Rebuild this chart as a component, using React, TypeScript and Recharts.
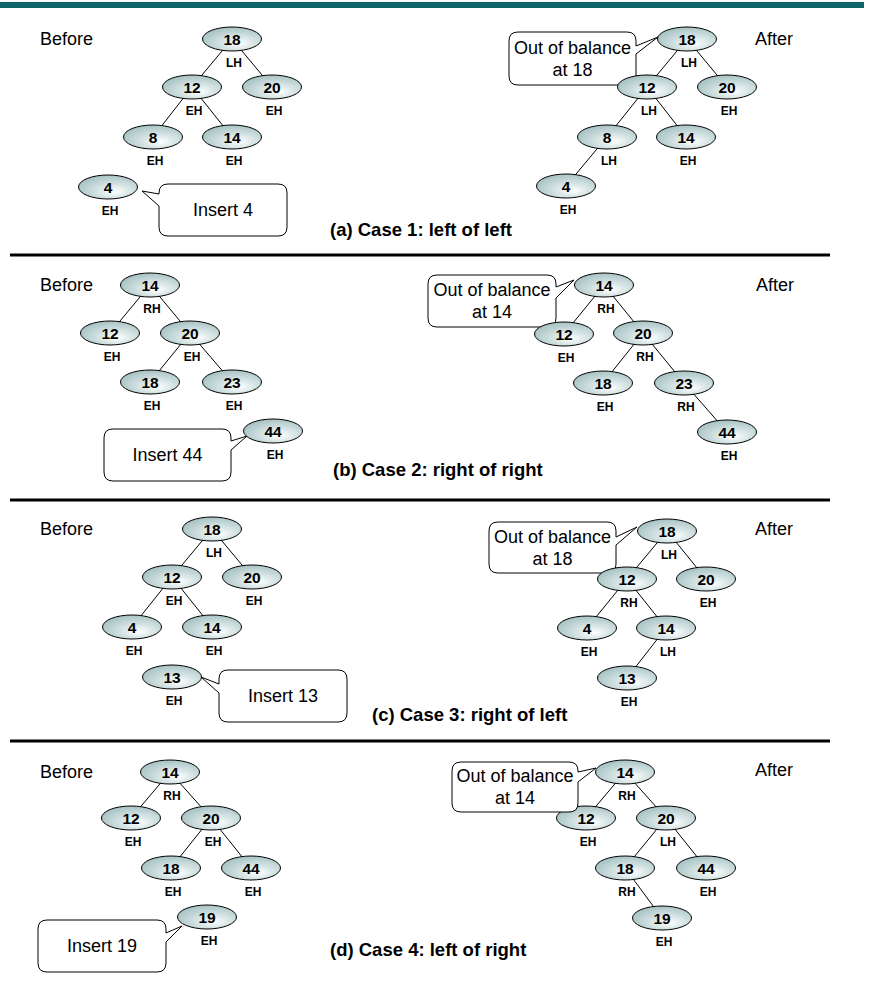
import React from 'react';
import { ScatterChart, Scatter, XAxis, YAxis } from 'recharts';

const W = 869;
const H = 983;
const FONT = '"Liberation Sans", Arial, Helvetica, sans-serif';

// ---- Trees (key, position in diagram units, balance factor) ----
const treeABefore = [
  { k: 18, x: 232, y: 39, b: 'LH' }, { k: 12, x: 192, y: 87, b: 'EH' }, { k: 20, x: 272, y: 87, b: 'EH' },
  { k: 8, x: 153, y: 137, b: 'EH' }, { k: 14, x: 232, y: 137, b: 'EH' }, { k: 4, x: 108, y: 187, b: 'EH' },
];
const edgesABefore = [[18, 12], [18, 20], [12, 8], [12, 14]];

const treeAAfter = [
  { k: 18, x: 687, y: 39, b: 'LH' }, { k: 12, x: 647, y: 87, b: 'LH' }, { k: 20, x: 727, y: 87, b: 'EH' },
  { k: 8, x: 607, y: 137, b: 'LH' }, { k: 14, x: 686, y: 137, b: 'EH' }, { k: 4, x: 566, y: 186, b: 'EH' },
];
const edgesAAfter = [[18, 12], [18, 20], [12, 8], [12, 14], [8, 4]];

const treeBBefore = [
  { k: 14, x: 150, y: 285, b: 'RH' }, { k: 12, x: 110, y: 333, b: 'EH' }, { k: 20, x: 190, y: 333, b: 'EH' },
  { k: 18, x: 150, y: 382, b: 'EH' }, { k: 23, x: 232, y: 382, b: 'EH' }, { k: 44, x: 273, y: 431, b: 'EH' },
];
const edgesBBefore = [[14, 12], [14, 20], [20, 18], [20, 23]];

const treeBAfter = [
  { k: 14, x: 604, y: 285, b: 'RH' }, { k: 12, x: 564, y: 334, b: 'EH' }, { k: 20, x: 643, y: 333, b: 'RH' },
  { k: 18, x: 603, y: 383, b: 'EH' }, { k: 23, x: 684, y: 383, b: 'RH' }, { k: 44, x: 727, y: 432, b: 'EH' },
];
const edgesBAfter = [[14, 12], [14, 20], [20, 18], [20, 23], [23, 44]];

const treeCBefore = [
  { k: 18, x: 212, y: 529, b: 'LH' }, { k: 12, x: 172, y: 577, b: 'EH' }, { k: 20, x: 252, y: 577, b: 'EH' },
  { k: 4, x: 132, y: 627, b: 'EH' }, { k: 14, x: 212, y: 627, b: 'EH' }, { k: 13, x: 172, y: 677, b: 'EH' },
];
const edgesCBefore = [[18, 12], [18, 20], [12, 4], [12, 14]];

const treeCAfter = [
  { k: 18, x: 667, y: 531, b: 'LH' }, { k: 12, x: 627, y: 579, b: 'RH' }, { k: 20, x: 706, y: 579, b: 'EH' },
  { k: 4, x: 587, y: 628, b: 'EH' }, { k: 14, x: 666, y: 628, b: 'LH' }, { k: 13, x: 627, y: 678, b: 'EH' },
];
const edgesCAfter = [[18, 12], [18, 20], [12, 4], [12, 14], [14, 13]];

const treeDBefore = [
  { k: 14, x: 170, y: 772, b: 'RH' }, { k: 12, x: 131, y: 818, b: 'EH' }, { k: 20, x: 211, y: 818, b: 'EH' },
  { k: 18, x: 171, y: 868, b: 'EH' }, { k: 44, x: 251, y: 868, b: 'EH' }, { k: 19, x: 207, y: 917, b: 'EH' },
];
const edgesDBefore = [[14, 12], [14, 20], [20, 18], [20, 44]];

const treeDAfter = [
  { k: 14, x: 625, y: 772, b: 'RH' }, { k: 12, x: 586, y: 818, b: 'EH' }, { k: 20, x: 666, y: 818, b: 'LH' },
  { k: 18, x: 625, y: 868, b: 'RH' }, { k: 44, x: 706, y: 868, b: 'EH' }, { k: 19, x: 662, y: 918, b: 'EH' },
];
const edgesDAfter = [[14, 12], [14, 20], [20, 18], [20, 44], [18, 19]];

// ---- Text ----
const sideLabels = [
  { x: 40, y: 39, t: 'Before' }, { x: 755, y: 39, t: 'After' },
  { x: 40, y: 285, t: 'Before' }, { x: 756, y: 285, t: 'After' },
  { x: 40, y: 529, t: 'Before' }, { x: 755, y: 529, t: 'After' },
  { x: 40, y: 772, t: 'Before' }, { x: 755, y: 770, t: 'After' },
];
const captions = [
  { x: 330, y: 230, t: '(a) Case 1: left of left' },
  { x: 333, y: 470, t: '(b) Case 2: right of right' },
  { x: 372, y: 715, t: '(c) Case 3: right of left' },
  { x: 330, y: 950, t: '(d) Case 4: left of right' },
];

// ---- Callouts (box corners, pointer side, pointer base, tip) ----
const calloutsUnder = [
  { x1: 159, y1: 184, x2: 287, y2: 236, side: 'left', pa: 194, pb: 206, tx: 142, ty: 191, lines: ['Insert 4'] },
  { x1: 509, y1: 32, x2: 636, y2: 85, side: 'right', pa: 46, pb: 54, tx: 658, ty: 37, lines: ['Out of balance', 'at 18'] },
  { x1: 104, y1: 429, x2: 231, y2: 481, side: 'right', pa: 441, pb: 450, tx: 247, ty: 436, lines: ['Insert 44'] },
  { x1: 428, y1: 275, x2: 556, y2: 327, side: 'right', pa: 287, pb: 298, tx: 574, ty: 280, lines: ['Out of balance', 'at 14'] },
  { x1: 219, y1: 670, x2: 347, y2: 722, side: 'left', pa: 684, pb: 693, tx: 201, ty: 677, lines: ['Insert 13'] },
  { x1: 489, y1: 522, x2: 616, y2: 573, side: 'right', pa: 537, pb: 545, tx: 637, ty: 527, lines: ['Out of balance', 'at 18'] },
  { x1: 38, y1: 920, x2: 166, y2: 972, side: 'right', pa: 933, pb: 942, tx: 182, ty: 926, lines: ['Insert 19'] },
];
const calloutsOver = [
  { x1: 452, y1: 762, x2: 578, y2: 812, side: 'right', pa: 772, pb: 782, tx: 596, ty: 768, lines: ['Out of balance', 'at 14'] },
];

// ---- Rules ----
const separatorYs = [255, 500, 741];
const separatorX = [10, 830];
const topBar = { x1: 0, x2: 864, y: 5 };

const trees = [
  [treeABefore, edgesABefore], [treeAAfter, edgesAAfter],
  [treeBBefore, edgesBBefore], [treeBAfter, edgesBAfter],
  [treeCBefore, edgesCBefore], [treeCAfter, edgesCAfter],
  [treeDBefore, edgesDBefore], [treeDAfter, edgesDAfter],
] as const;

const edgeSegments: { x: number; y: number }[][] = [];
trees.forEach(([nodes, edges]) => {
  (edges as number[][]).forEach(([p, c]) => {
    const a = (nodes as any[]).find((n) => n.k === p);
    const b = (nodes as any[]).find((n) => n.k === c);
    edgeSegments.push([{ x: a.x, y: a.y }, { x: b.x, y: b.y }]);
  });
});
const allNodes = trees.flatMap(([nodes]) => nodes as any[]);

const Nothing = () => <g />;

const NodeShape = (props: any) => {
  const { cx, cy, payload } = props;
  return (
    <g>
      <ellipse cx={cx} cy={cy} rx={29.5} ry={12} fill="url(#nodeGrad)" stroke="#000" strokeWidth={1} />
      <text x={cx} y={cy + 5.5} textAnchor="middle" fontFamily={FONT} fontWeight="bold" fontSize={15.5} fill="#000">
        {payload.k}
      </text>
      <text x={cx + 2} y={cy + 28} textAnchor="middle" fontFamily={FONT} fontWeight="bold" fontSize={12} fill="#000">
        {payload.b}
      </text>
    </g>
  );
};

const SideLabelShape = (props: any) => {
  const { cx, cy, payload } = props;
  return (
    <text x={cx} y={cy + 6} textAnchor="start" fontFamily={FONT} fontSize={18} fill="#000">
      {payload.t}
    </text>
  );
};

const CaptionShape = (props: any) => {
  const { cx, cy, payload } = props;
  return (
    <text x={cx} y={cy + 6} textAnchor="start" fontFamily={FONT} fontWeight="bold" fontSize={18.5} fill="#000">
      {payload.t}
    </text>
  );
};

const CalloutShape = (props: any) => {
  const { cx, cy, payload: c } = props;
  const X = (v: number) => cx + (v - c.x1);
  const Y = (v: number) => cy + (v - c.y1);
  const x1 = X(c.x1), x2 = X(c.x2), y1 = Y(c.y1), y2 = Y(c.y2);
  const r = 9;
  let d = `M ${x1 + r} ${y1} H ${x2 - r} Q ${x2} ${y1} ${x2} ${y1 + r} `;
  if (c.side === 'right') {
    d += `V ${Y(c.pa)} L ${X(c.tx)} ${Y(c.ty)} L ${x2} ${Y(c.pb)} `;
  }
  d += `V ${y2 - r} Q ${x2} ${y2} ${x2 - r} ${y2} H ${x1 + r} Q ${x1} ${y2} ${x1} ${y2 - r} `;
  if (c.side === 'left') {
    d += `V ${Y(c.pb)} L ${X(c.tx)} ${Y(c.ty)} L ${x1} ${Y(c.pa)} `;
  }
  d += `V ${y1 + r} Q ${x1} ${y1} ${x1 + r} ${y1} Z`;
  const mx = (x1 + x2) / 2;
  const my = (y1 + y2) / 2;
  const n = c.lines.length;
  return (
    <g>
      <path d={d} fill="#fff" stroke="#000" strokeWidth={1} />
      {c.lines.map((ln: string, i: number) => (
        <text key={i} x={mx} y={my + 6 + (i - (n - 1) / 2) * 22} textAnchor="middle" fontFamily={FONT} fontSize={18} fill="#000">
          {ln}
        </text>
      ))}
    </g>
  );
};

const withXY = (arr: any[]) => arr.map((c) => ({ ...c, x: c.x1, y: c.y1 }));

export default function App() {
  return (
    <div style={{ position: 'absolute', left: 0, top: 0, width: W, height: H, background: '#fff' }}>
      <ScatterChart width={W} height={H} margin={{ top: 0, right: 0, bottom: 0, left: 0 }}>
        <defs>
          <radialGradient id="nodeGrad" cx="0.6" cy="0.65" r="0.65" fx="0.62" fy="0.7">
            <stop offset="0" stopColor="#ffffff" />
            <stop offset="0.4" stopColor="#d9e6e6" />
            <stop offset="1" stopColor="#a8c3c5" />
          </radialGradient>
        </defs>
        <XAxis type="number" dataKey="x" domain={[0, W]} hide allowDataOverflow />
        <YAxis type="number" dataKey="y" domain={[0, H]} reversed hide allowDataOverflow />

        <Scatter
          data={[{ x: topBar.x1, y: topBar.y }, { x: topBar.x2, y: topBar.y }]}
          line={{ stroke: '#0b6568', strokeWidth: 6 }}
          shape={Nothing}
          isAnimationActive={false}
        />
        {separatorYs.map((y, i) => (
          <Scatter
            key={'sep' + i}
            data={[{ x: separatorX[0], y }, { x: separatorX[1], y }]}
            line={{ stroke: '#000', strokeWidth: 3 }}
            shape={Nothing}
            isAnimationActive={false}
          />
        ))}
        {edgeSegments.map((seg, i) => (
          <Scatter
            key={'e' + i}
            data={seg}
            line={{ stroke: '#000', strokeWidth: 1 }}
            shape={Nothing}
            isAnimationActive={false}
          />
        ))}
        <Scatter data={withXY(calloutsUnder)} shape={CalloutShape} isAnimationActive={false} />
        <Scatter data={allNodes} shape={NodeShape} isAnimationActive={false} />
        <Scatter data={withXY(calloutsOver)} shape={CalloutShape} isAnimationActive={false} />
        <Scatter data={sideLabels} shape={SideLabelShape} isAnimationActive={false} />
        <Scatter data={captions} shape={CaptionShape} isAnimationActive={false} />
      </ScatterChart>
    </div>
  );
}
